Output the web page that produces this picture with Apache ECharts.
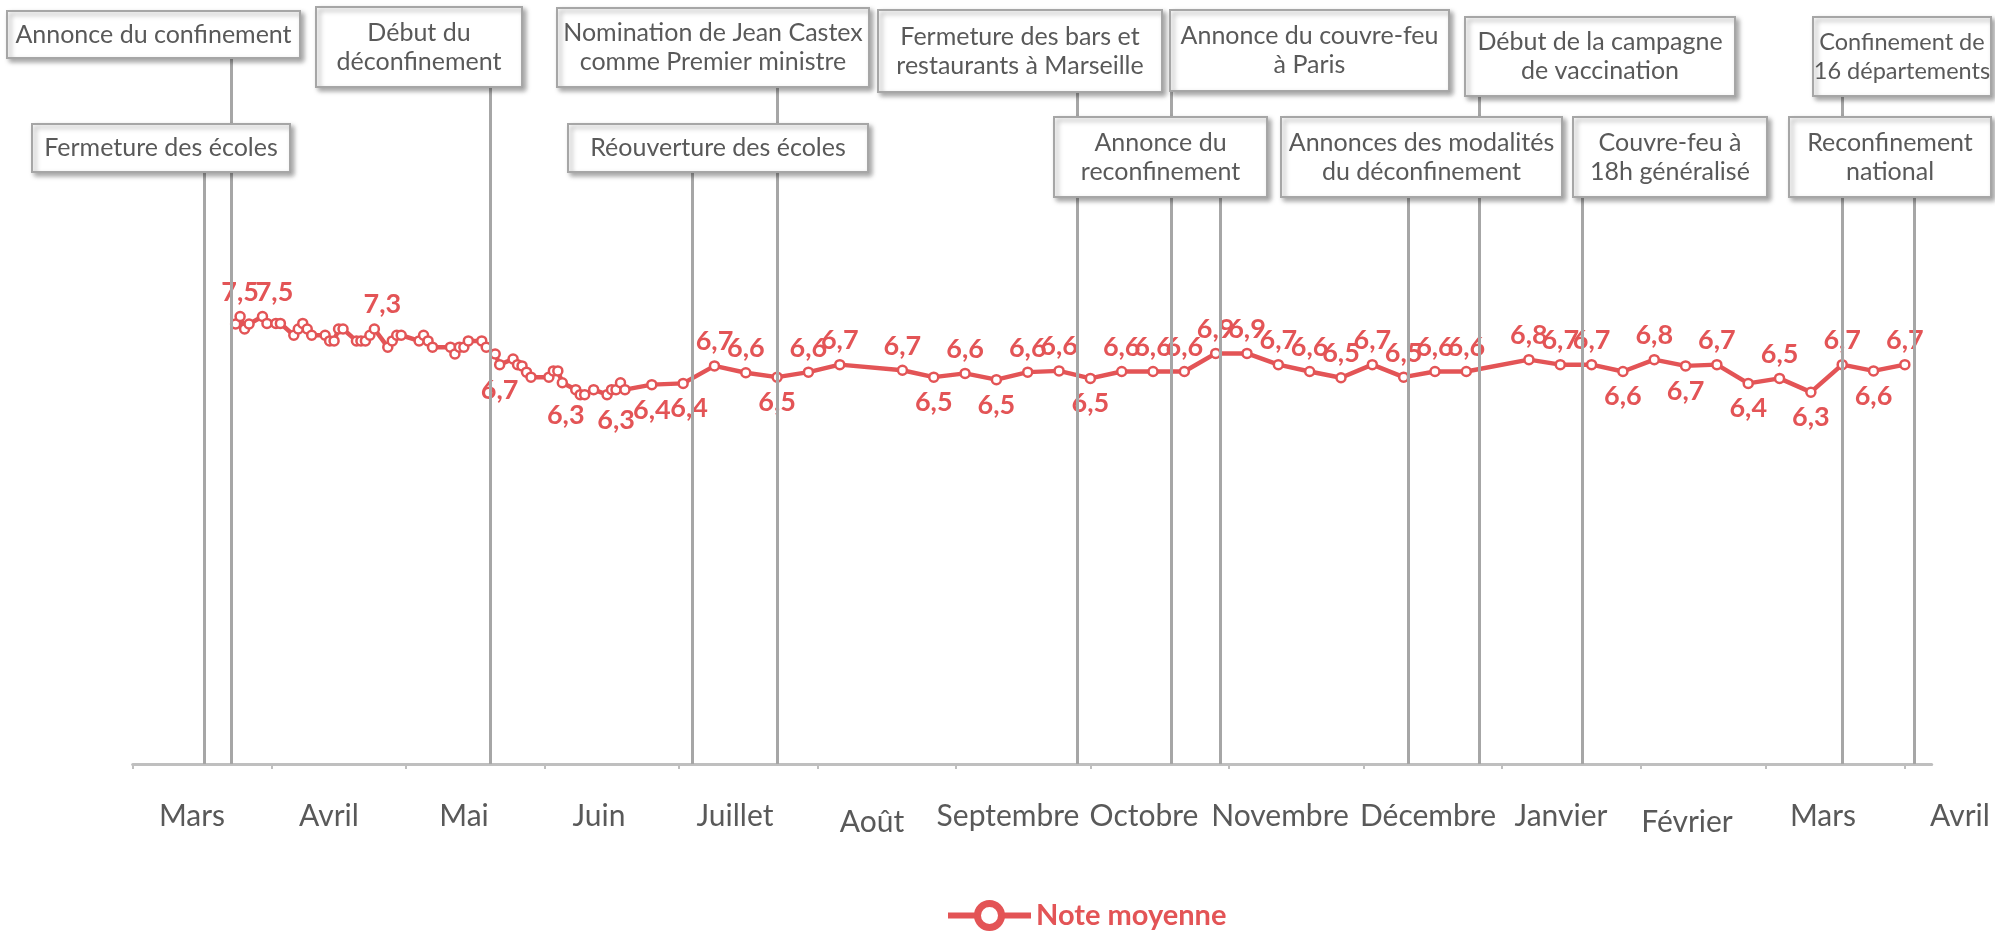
<!DOCTYPE html>
<html>
<head>
<meta charset="utf-8">
<script src="https://cdn.jsdelivr.net/npm/echarts@6/dist/echarts.min.js"></script>
<style>
  html, body { margin: 0; padding: 0; background: #fff; }
  #chart { width: 1995px; height: 934px; }
</style>
</head>
<body>
<div id="chart"></div>
<script>
// données : note moyenne
var dates = [
  '2020-03-24','2020-03-25','2020-03-26','2020-03-27','2020-03-30','2020-03-31','2020-04-02','2020-04-03',
  '2020-04-06','2020-04-07','2020-04-08','2020-04-09','2020-04-10','2020-04-13','2020-04-14','2020-04-15',
  '2020-04-16','2020-04-17','2020-04-20','2020-04-21','2020-04-22','2020-04-23','2020-04-24','2020-04-27',
  '2020-04-28','2020-04-29','2020-04-30','2020-05-04','2020-05-05','2020-05-06','2020-05-07','2020-05-11',
  '2020-05-12','2020-05-13','2020-05-14','2020-05-15','2020-05-18','2020-05-19','2020-05-21','2020-05-22',
  '2020-05-25','2020-05-26','2020-05-27','2020-05-28','2020-05-29','2020-06-02','2020-06-03','2020-06-04',
  '2020-06-05','2020-06-08','2020-06-09','2020-06-10','2020-06-12','2020-06-15','2020-06-16','2020-06-17',
  '2020-06-18','2020-06-19','2020-06-25','2020-07-02','2020-07-09','2020-07-16','2020-07-23','2020-07-30',
  '2020-08-06','2020-08-20','2020-08-27','2020-09-03','2020-09-10','2020-09-17','2020-09-24','2020-10-01',
  '2020-10-08','2020-10-15','2020-10-22','2020-10-29','2020-11-05','2020-11-12','2020-11-19','2020-11-26',
  '2020-12-03','2020-12-10','2020-12-17','2020-12-24','2021-01-07','2021-01-14','2021-01-21','2021-01-28',
  '2021-02-04','2021-02-11','2021-02-18','2021-02-25','2021-03-04','2021-03-11','2021-03-18','2021-03-25',
  '2021-04-01'
];
var notes = [
  7.39, 7.51, 7.31, 7.39, 7.51, 7.40, 7.40, 7.40,
  7.21, 7.31, 7.40, 7.31, 7.21, 7.21, 7.12, 7.12,
  7.31, 7.31, 7.12, 7.12, 7.12, 7.21, 7.31, 7.02,
  7.12, 7.21, 7.21, 7.12, 7.21, 7.12, 7.02, 7.02,
  6.91, 7.02, 7.02, 7.12, 7.12, 7.02, 6.91, 6.74,
  6.83, 6.74, 6.72, 6.62, 6.54, 6.54, 6.64, 6.64,
  6.45, 6.34, 6.26, 6.26, 6.34, 6.26, 6.34, 6.34,
  6.45, 6.34, 6.42, 6.44, 6.72, 6.61, 6.54, 6.62,
  6.74, 6.65, 6.54, 6.60, 6.50, 6.62, 6.64, 6.52,
  6.63, 6.63, 6.63, 6.92, 6.92, 6.74, 6.63, 6.53,
  6.74, 6.54, 6.63, 6.63, 6.82, 6.74, 6.74, 6.63,
  6.82, 6.72, 6.74, 6.44, 6.52, 6.30, 6.74, 6.64,
  6.74
];

// graduations
var monthDates = ['2020-03-01','2020-04-01','2020-05-01','2020-06-01','2020-07-01','2020-08-01','2020-09-01',
  '2020-10-01','2020-11-01','2020-12-01','2021-01-01','2021-02-01','2021-03-01','2021-04-01'];
var monthNames = ['Mars','Avril','Mai','Juin','Juillet','Août','Septembre','Octobre','Novembre',
  'Décembre','Janvier','Février','Mars','Avril'];
// centre horizontal de chaque libellé de mois (px)
var monthLabelCenters = [192, 329, 464, 599, 735, 872, 1008, 1144, 1280, 1428, 1561, 1687, 1823, 1960];

// évènements
var eventDates = ['2020-03-23','2020-03-17','2020-05-20','2020-07-23','2020-07-04','2020-09-28','2020-10-19',
  '2020-10-30','2020-12-27','2020-12-11','2021-01-19','2021-03-18','2021-04-03'];
var eventLabels = [
  'Annonce du confinement',
  'Fermeture des écoles',
  'Début du\ndéconfinement',
  'Nomination de Jean Castex\ncomme Premier ministre',
  'Réouverture des écoles',
  'Fermeture des bars et\nrestaurants à Marseille',
  'Annonce du couvre-feu\nà Paris',
  'Annonce du\nreconfinement',
  'Début de la campagne\nde vaccination',
  'Annonces des modalités\ndu déconfinement',
  'Couvre-feu à\n18h généralisé',
  'Confinement de\n16 départements',
  'Reconfinement\nnational'
];

// mise en page des encadrés [x, y, largeur, hauteur, taille de police]
var boxes = [
  [7, 11, 293, 47, 25], [32, 124, 258, 48, 25], [316, 7, 206, 80, 25], [557, 8, 312, 79, 25],
  [568, 124, 300, 48, 25], [878, 10, 284, 82, 25], [1170, 10, 279, 81, 25], [1054, 117, 213, 80, 25],
  [1465, 17, 270, 79, 25], [1281, 117, 281, 80, 25], [1573, 117, 194, 80, 25], [1813, 17, 178, 79, 23.5],
  [1789, 117, 202, 80, 25]
];

// placement des étiquettes
var labelTop = ['2020-03-25','2020-03-30','2020-04-24','2020-07-09','2020-07-16','2020-07-30','2020-08-06',
  '2020-08-20','2020-09-03','2020-09-17','2020-09-24','2020-10-08','2020-10-15','2020-10-22','2020-10-29',
  '2020-11-05','2020-11-12','2020-11-19','2020-11-26','2020-12-03','2020-12-10','2020-12-17','2020-12-24',
  '2021-01-07','2021-01-14','2021-01-21','2021-02-04','2021-02-18','2021-03-04','2021-03-18','2021-04-01'];
var labelBottom = ['2020-05-22','2020-06-08','2020-06-15','2020-06-25','2020-07-02','2020-07-23','2020-08-27',
  '2020-09-10','2020-10-01','2021-01-28','2021-02-11','2021-02-25','2021-03-11','2021-03-25'];
var labelShift = {'2020-03-30': 12, '2020-04-24': 8, '2020-06-08': -10, '2020-06-15': 9, '2020-07-02': 6};

var RED = '#E35456';
var GREY = '#A6A6A6';
var FONT = 'Lato';

var Y_MIN = 0.35, Y_MAX = 12.574;
var X_MIN = 0, X_MAX = 402;
var GRID_LEFT = 132.7, GRID_RIGHT = 63.3, GRID_TOP = 0, GRID_BOTTOM = 170, W = 1995, H = 934;

function dayOf(s) {
  var p = s.split('-');
  return Math.round((Date.UTC(+p[0], +p[1] - 1, +p[2]) - Date.UTC(2020, 2, 1)) / 86400000);
}
function pxToValue(py) {
  var h = H - GRID_TOP - GRID_BOTTOM;
  return Y_MIN + (H - GRID_BOTTOM - py) * (Y_MAX - Y_MIN) / h;
}
function dayToPx(d) {
  return GRID_LEFT + (d - X_MIN) * (W - GRID_LEFT - GRID_RIGHT) / (X_MAX - X_MIN);
}
function fmt(v) {
  return v.toFixed(1).replace('.', ',');
}

var monthStarts = monthDates.map(dayOf);

// un style par libellé de mois, décalé vers la droite de sa graduation
var monthRich = {};
monthNames.forEach(function (name, k) {
  var shift = 2 * (monthLabelCenters[k] - dayToPx(monthStarts[k]));
  var low = (name == 'Août' || name == 'Février') ? 6 : 0;
  monthRich['m' + k] = { fontSize: 30, fontFamily: FONT, color: '#595959',
    padding: shift >= 0 ? [low, 0, 0, shift] : [low, -shift, 0, 0] };
});

var points = [];
for (var i = 0; i < dates.length; i++) {
  var item = { value: [dayOf(dates[i]), notes[i]] };
  var pos = null;
  if (labelTop.indexOf(dates[i]) >= 0) pos = 'top';
  if (labelBottom.indexOf(dates[i]) >= 0) pos = 'bottom';
  if (pos) {
    item.label = { show: true, position: pos, distance: pos == 'top' ? 5 : 6,
      offset: [labelShift[dates[i]] || 0, 0] };
  }
  points.push(item);
}

var eventLines = [];
var graphics = [];
for (var j = 0; j < eventDates.length; j++) {
  var b = boxes[j];
  var d = dayOf(eventDates[j]);
  eventLines.push([{ coord: [d, pxToValue(b[1] + b[3])] }, { coord: [d, Y_MIN] }]);
  graphics.push({
    type: 'rect', z: 100,
    shape: { x: b[0], y: b[1], width: b[2], height: b[3] },
    style: { fill: '#fff', stroke: GREY, lineWidth: 2, shadowBlur: 5, shadowOffsetX: 3, shadowOffsetY: 3,
      shadowColor: 'rgba(0,0,0,0.35)' }
  });
  graphics.push({
    type: 'text', z: 101,
    x: b[0] + b[2] / 2, y: b[1] + b[3] / 2,
    style: { text: eventLabels[j], align: 'center', verticalAlign: 'middle', fill: '#595959',
      font: b[4] + 'px ' + FONT, lineHeight: 29 }
  });
}

var chart = echarts.init(document.getElementById('chart'));
chart.setOption({
  animation: false,
  grid: { left: GRID_LEFT, right: GRID_RIGHT, top: GRID_TOP, bottom: GRID_BOTTOM },
  legend: {
    data: ['Note moyenne'], left: 945, top: 900, padding: 0,
    itemWidth: 83, itemHeight: 30, itemGap: 15,
    textStyle: { color: RED, fontWeight: 'bold', fontSize: 29, fontFamily: FONT },
    lineStyle: { width: 6 }, itemStyle: { borderWidth: 7 }
  },
  xAxis: {
    type: 'value', min: X_MIN, max: X_MAX,
    splitLine: { show: false },
    axisLine: { show: true, lineStyle: { color: '#BFBFBF', width: 3 } },
    axisTick: { show: true, customValues: monthStarts, length: 5, lineStyle: { color: '#BFBFBF', width: 2 } },
    axisLabel: {
      customValues: monthStarts, margin: 37,
      formatter: function (v) {
        var k = monthStarts.indexOf(v);
        return '{m' + k + '|' + monthNames[k] + '}';
      },
      rich: monthRich
    }
  },
  yAxis: { type: 'value', min: Y_MIN, max: Y_MAX, show: false },
  series: [
    {
      name: 'Note moyenne', type: 'line', z: 2,
      color: RED,
      data: points,
      symbol: 'circle', symbolSize: 9, showAllSymbol: true,
      lineStyle: { color: RED, width: 4.5 },
      itemStyle: { color: '#fff', borderColor: RED, borderWidth: 2.5 },
      label: {
        show: false, color: RED, fontWeight: 'bold', fontSize: 27, fontFamily: FONT,
        formatter: function (p) { return fmt(p.value[1]); }
      }
    },
    {
      name: 'evenements', type: 'line', z: 5, data: [],
      markLine: {
        silent: true, symbol: 'none', animation: false,
        label: { show: false },
        lineStyle: { color: GREY, width: 3, type: 'solid' },
        data: eventLines
      }
    }
  ],
  graphic: graphics
});
</script>
</body>
</html>
